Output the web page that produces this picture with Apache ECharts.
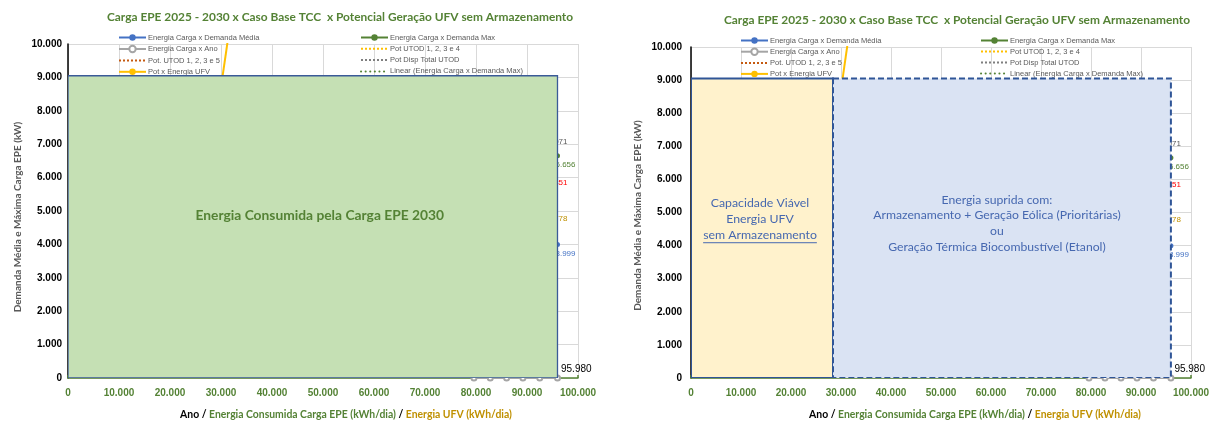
<!DOCTYPE html>
<html><head><meta charset="utf-8">
<script src="https://cdn.jsdelivr.net/npm/echarts@6/dist/echarts.min.js"></script>
<style>html,body{margin:0;padding:0;background:#fff}#c{width:1216px;height:425px}</style>
</head><body><div id="c"></div>
<script>
// ---------------- data ----------------
const chartTitle = 'Carga EPE 2025 - 2030 x Caso Base TCC  x Potencial Geração UFV sem Armazenamento';
const yAxisTitle = 'Demanda Média e Máxima Carga EPE (kW)';
const energiaAno = [79600, 82800, 86000, 89200, 92500, 95980];      // Energia Carga x Ano (kWh/dia)
const anoNivel = [0, 0, 0, 0, 0, 0];
const demandaMedia = [[95980, 3999]];
const demandaMax = [[95980, 6656]];
const potUTOD1234 = [[0, 4778], [95980, 4778]];
const potUTOD1235 = [[0, 5851], [95980, 5851]];
const potDispTotal = [[0, 7071], [95980, 7071]];
const potEnergiaUFV = [[22200, 500], [31700, 10500]];
const linearDemMax = [];
// rectangles: [x inicio, x fim, topo]
const leftBlocks = [[0, 95980, 9050]];
const rightBlocks = [[0, 28400, 9050], [28400, 95980, 9050]];
const leftBlockText = [['Energia Consumida pela Carga EPE 2030']];
const rightBlockText = [
  ['Capacidade Viável', 'Energia UFV', 'sem Armazenamento'],
  ['Energia suprida com:', 'Armazenamento + Geração Eólica (Prioritárias)', 'ou', 'Geração Térmica Biocombustível (Etanol)']
];

// ---------------- styles ----------------
const GREEN = '#548235', GOLD = '#bf9000', BLUE = '#4472c4', DARKBLUE = '#2f5597';
const fmt = v => String(Math.round(v)).replace(/\B(?=(\d{3})+(?!\d))/g, '.');
const leftBlockStyles = [{fill: '#c5e0b4', stroke: '#3a5a98', lineWidth: 1.3, dash: null,
  text: {color: GREEN, font: 'bold 13.8px Lato', dx: 7, dy: -11, lh: 16, underline: -1}}];
const rightBlockStyles = [
  {fill: '#fff2cc', stroke: DARKBLUE, lineWidth: 2, dash: null,
   text: {color: '#4668b0', font: '12.3px Lato', dx: -2, dy: -9, lh: 16, underline: 2}},
  {fill: '#dae3f3', stroke: DARKBLUE, lineWidth: 2, dash: [6, 3],
   text: {color: '#4668b0', font: '12.2px Lato', dx: -5, dy: -5, lh: 15.7, underline: -1}}
];
const measureCtx = document.createElement('canvas').getContext('2d');

function blockRenderer(styles, texts) {
  return function (params, api) {
    const i = params.dataIndex;
    const st = styles[i];
    const p0 = api.coord([api.value(0), api.value(2)]);
    const p1 = api.coord([api.value(1), 0]);
    const children = [{
      type: 'rect',
      shape: {x: p0[0], y: p0[1], width: p1[0] - p0[0], height: p1[1] - p0[1]},
      style: {fill: st.fill, stroke: st.stroke, lineWidth: st.lineWidth, lineDash: st.dash}
    }];
    const lines = texts[i];
    const cx = (p0[0] + p1[0]) / 2 + st.text.dx;
    const cy = (p0[1] + p1[1]) / 2 + st.text.dy;
    const n = lines.length;
    lines.forEach((t, k) => {
      const y = cy + (k - (n - 1) / 2) * st.text.lh;
      children.push({type: 'text', style: {text: t, x: cx, y: y, fill: st.text.color, font: st.text.font,
        align: 'center', verticalAlign: 'middle'}});
      if (k === st.text.underline) {
        measureCtx.font = st.text.font;
        const w = measureCtx.measureText(t).width;
        children.push({type: 'line', shape: {x1: cx - w / 2, y1: y + 7.5, x2: cx + w / 2, y2: y + 7.5},
          style: {stroke: st.text.color, lineWidth: 1}});
      }
    });
    return {type: 'group', children: children};
  };
}

const smallLbl = {fontFamily: 'Liberation Sans', fontSize: 8};

function panelSeries(g, blocks, styles, texts) {
  const ax = {xAxisIndex: g, yAxisIndex: g};
  const endLbl = color => ({show: true, formatter: p => p.dataIndex === 1 ? fmt(p.value[1]) : '', position: 'inside', color: color, ...smallLbl});
  return [
    Object.assign({name: 'Energia Carga x Demanda Média', type: 'line', data: demandaMedia,
      symbol: 'circle', symbolSize: 5, itemStyle: {color: BLUE}, lineStyle: {color: BLUE, width: 2}, z: 3,
      label: {show: true, formatter: p => fmt(p.value[1]), position: [0.5, 7.5], color: BLUE, ...smallLbl}}, ax),
    Object.assign({name: 'Energia Carga x Demanda Max', type: 'line', data: demandaMax,
      symbol: 'circle', symbolSize: 5, itemStyle: {color: GREEN}, lineStyle: {color: GREEN, width: 2}, z: 3,
      label: {show: true, formatter: p => fmt(p.value[1]), position: [0.5, 7.5], color: GREEN, ...smallLbl}}, ax),
    Object.assign({name: 'Energia Carga x Ano', type: 'line',
      data: energiaAno.map((x, k) => ({value: [x, anoNivel[k]],
        label: k === energiaAno.length - 1 ? {show: true} : {show: false}})),
      symbol: 'emptyCircle', symbolSize: 5, itemStyle: {color: '#a5a5a5', borderWidth: 1.2},
      lineStyle: {color: '#a5a5a5', width: 2}, z: 3,
      label: {show: false, formatter: p => fmt(p.value[0]), position: [7, -10], color: '#000',
        fontFamily: 'Liberation Sans', fontSize: 10}}, ax),
    Object.assign({name: 'Pot UTOD 1, 2, 3 e 4', type: 'line', data: potUTOD1234,
      symbol: 'circle', symbolSize: 0, lineStyle: {color: '#ffc000', width: 1.3, type: [2, 2]},
      itemStyle: {color: '#ffc000'}, z: 3, label: endLbl(GOLD)}, ax),
    Object.assign({name: 'Pot. UTOD 1, 2, 3 e 5', type: 'line', data: potUTOD1235,
      symbol: 'circle', symbolSize: 0, lineStyle: {color: '#c55a11', width: 1.3, type: [2, 2]},
      itemStyle: {color: '#c55a11'}, z: 3, label: endLbl('#ff0000')}, ax),
    Object.assign({name: 'Pot Disp Total UTOD', type: 'line', data: potDispTotal,
      symbol: 'circle', symbolSize: 0, lineStyle: {color: '#7f7f7f', width: 1.3, type: [2, 2]},
      itemStyle: {color: '#7f7f7f'}, z: 3, label: endLbl('#595959')}, ax),
    Object.assign({name: 'Pot x Energia UFV', type: 'line', data: potEnergiaUFV,
      symbol: 'circle', symbolSize: 5, itemStyle: {color: '#ffc000'}, lineStyle: {color: '#ffc000', width: 2}, z: 3}, ax),
    Object.assign({name: 'Linear (Energia Carga x Demanda Max)', type: 'line', data: linearDemMax,
      symbol: 'none', lineStyle: {color: GREEN, width: 2.6, type: [0.1, 4.5], cap: 'round'}, itemStyle: {color: GREEN}, z: 3}, ax),
    Object.assign({name: 'blocks' + g, type: 'custom', data: blocks, renderItem: blockRenderer(styles, texts),
      z: 10, silent: true, clip: true}, ax)
  ];
}

const noSymbol = ['Pot. UTOD 1, 2, 3 e 5', 'Pot UTOD 1, 2, 3 e 4', 'Pot Disp Total UTOD', 'Linear (Energia Carga x Demanda Max)'];
const legendCol1 = ['Energia Carga x Demanda Média', 'Energia Carga x Ano', 'Pot. UTOD 1, 2, 3 e 5', 'Pot x Energia UFV'];
const legendCol2 = ['Energia Carga x Demanda Max', 'Pot UTOD 1, 2, 3 e 4', 'Pot Disp Total UTOD', 'Linear (Energia Carga x Demanda Max)'];
function legend(left, top, gap, data) {
  return {left: left, top: top, orient: 'vertical',
    data: data.map(n => noSymbol.includes(n) ? {name: n, itemStyle: {opacity: 0}} : n),
    itemWidth: 27, itemHeight: 8, itemGap: gap,
    selectedMode: false, z: 4, padding: 0, textStyle: {fontFamily: 'Liberation Sans', fontSize: 7.5, color: '#595959', padding: [0, 0, 0, -3]}};
}

const grids = [{left: 68, top: 44, width: 510, height: 336}, {left: 691, top: 47, width: 500, height: 333}];
function xAxis(g, namePad) {
  return {gridIndex: g, type: 'value', min: 0, max: 100000, interval: 10000,
    axisLine: {show: true, onZero: false, lineStyle: {color: GREEN, width: 1.5}},
    axisTick: {show: true, inside: true, length: 3, lineStyle: {color: GREEN, width: 1.5}},
    splitLine: {show: true, lineStyle: {color: '#d9d9d9', width: 1}},
    axisLabel: {formatter: fmt, color: GREEN, fontWeight: 'bold', fontFamily: 'Liberation Sans', fontSize: 10, margin: 10},
    name: '{a|Ano / }{b|Energia Consumida Carga EPE (kWh/dia)}{a| / }{c|Energia UFV (kWh/dia)}',
    nameLocation: 'middle', nameGap: 32,
    nameTextStyle: {padding: [0, 0, 0, namePad], rich: {
      a: {color: '#000', fontWeight: 'bold', fontFamily: 'Lato', fontSize: 10.4},
      b: {color: GREEN, fontWeight: 'bold', fontFamily: 'Lato', fontSize: 10.4},
      c: {color: GOLD, fontWeight: 'bold', fontFamily: 'Lato', fontSize: 10.4}}}};
}
function yAxis(g, margin, gap, shiftPad) {
  return {gridIndex: g, type: 'value', min: 0, max: 10000, interval: 1000,
    axisLine: {show: true, lineStyle: {color: '#000', width: 1.5}},
    axisTick: {show: false},
    splitLine: {show: true, lineStyle: {color: '#d9d9d9', width: 1}},
    axisLabel: {formatter: fmt, color: '#000', fontWeight: 'bold', fontFamily: 'Liberation Sans', fontSize: 10, margin: margin},
    name: yAxisTitle, nameLocation: 'middle', nameGap: gap,
    nameTextStyle: {color: '#595959', fontWeight: 'bold', fontFamily: 'Lato', fontSize: 10, padding: [0, shiftPad, 0, 0]}};
}

const chart = echarts.init(document.getElementById('c'), null, {renderer: 'canvas'});
chart.setOption({
  backgroundColor: '#fff',
  animation: false,
  grid: grids,
  xAxis: [xAxis(0, 46), xAxis(1, 68)],
  yAxis: [yAxis(0, 6, 45, 12), yAxis(1, 9, 48, 6)],
  legend: [legend(118, 33.5, 3.3, legendCol1), legend(360, 33.5, 3.3, legendCol2),
           legend(740, 36.5, 3, legendCol1), legend(980, 36.5, 3, legendCol2)],
  graphic: [
    {type: 'text', style: {text: chartTitle, x: 340, y: 17, align: 'center', verticalAlign: 'middle',
      fill: GREEN, font: 'bold 11.9px Lato'}},
    {type: 'text', style: {text: chartTitle, x: 957, y: 20, align: 'center', verticalAlign: 'middle',
      fill: GREEN, font: 'bold 11.9px Lato'}}
  ],
  series: [...panelSeries(0, leftBlocks, leftBlockStyles, leftBlockText),
           ...panelSeries(1, rightBlocks, rightBlockStyles, rightBlockText)]
});
</script></body></html>
